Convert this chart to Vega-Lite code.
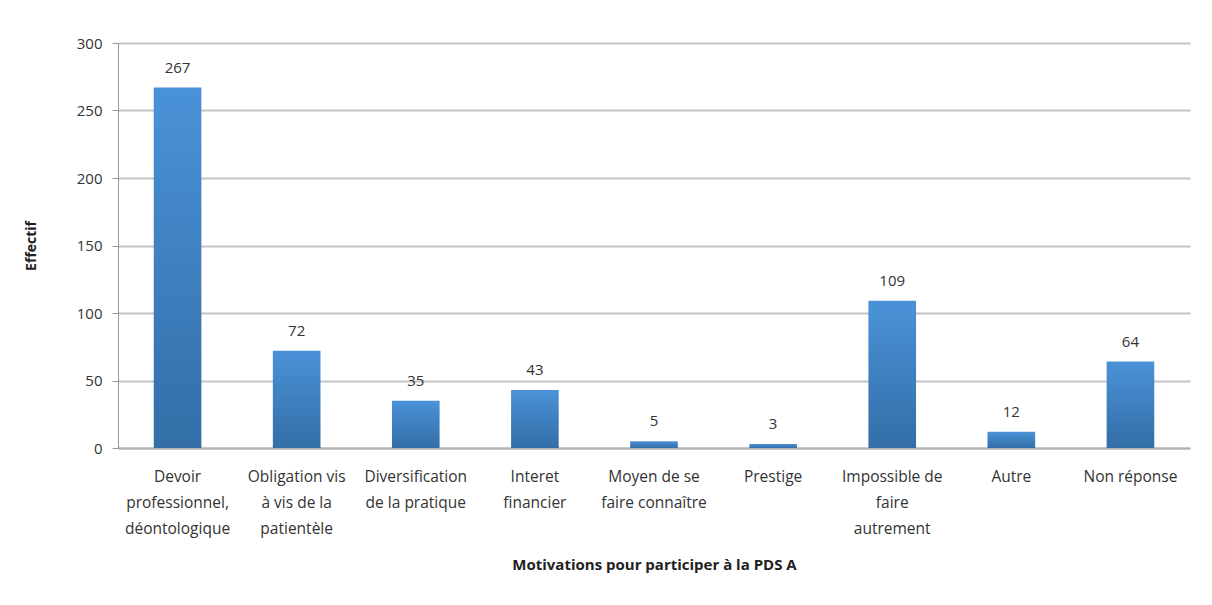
{
  "$schema": "https://vega.github.io/schema/vega-lite/v6.json",
  "autosize": {"type": "none"},
  "padding": {"left": 118, "top": 43, "right": 22, "bottom": 157},
  "width": 1072,
  "height": 405,
  "background": "white",
  "data": {"values": [
    {"motivation": "Devoir\nprofessionnel,\ndéontologique", "effectif": 267},
    {"motivation": "Obligation vis\nà vis de la\npatientèle", "effectif": 72},
    {"motivation": "Diversification\nde la pratique", "effectif": 35},
    {"motivation": "Interet\nfinancier", "effectif": 43},
    {"motivation": "Moyen de se\nfaire connaître", "effectif": 5},
    {"motivation": "Prestige", "effectif": 3},
    {"motivation": "Impossible de\nfaire\nautrement", "effectif": 109},
    {"motivation": "Autre", "effectif": 12},
    {"motivation": "Non réponse", "effectif": 64}
  ]},
  "config": {
    "view": {"stroke": null},
    "font": "Open Sans",
    "axis": {"labelFont": "Open Sans", "titleFont": "Open Sans", "labelColor": "#333", "titleColor": "#222"}
  },
  "encoding": {
    "x": {
      "field": "motivation", "type": "nominal", "sort": null,
      "scale": {"paddingInner": 0.6, "paddingOuter": 0.3},
      "axis": {
        "title": "Motivations pour participer à la PDS A",
        "titleFontSize": 15, "titleFontWeight": "bold", "titlePadding": 21,
        "labelExpr": "split(datum.label, '\\n')",
        "labelAngle": 0, "labelFontSize": 15.5, "labelLineHeight": 26,
        "labelPadding": 21, "ticks": false,
        "domainColor": "#b0b0b0", "domainWidth": 2,
        "labelLimit": 200
      }
    },
    "y": {
      "field": "effectif", "type": "quantitative",
      "scale": {"domain": [0, 300], "nice": false},
      "axis": {
        "title": "Effectif", "titleFontSize": 14, "titleFontWeight": "bold", "titlePadding": 38,
        "values": [0, 50, 100, 150, 200, 250, 300],
        "labelFontSize": 15, "labelPadding": 10,
        "tickSize": 6, "tickColor": "#999", "domainColor": "#999",
        "gridColor": "#c4c4c4", "gridWidth": 2
      }
    }
  },
  "layer": [
    {
      "mark": {
        "type": "bar",
        "color": {
          "gradient": "linear", "x1": 0, "y1": 0, "x2": 0, "y2": 1,
          "stops": [{"offset": 0, "color": "#4a92d8"}, {"offset": 1, "color": "#336ea7"}]
        }
      }
    },
    {
      "mark": {"type": "text", "baseline": "bottom", "dy": -12, "fontSize": 15, "color": "#333", "font": "Open Sans"},
      "encoding": {"text": {"field": "effectif", "type": "quantitative"}}
    }
  ]
}
